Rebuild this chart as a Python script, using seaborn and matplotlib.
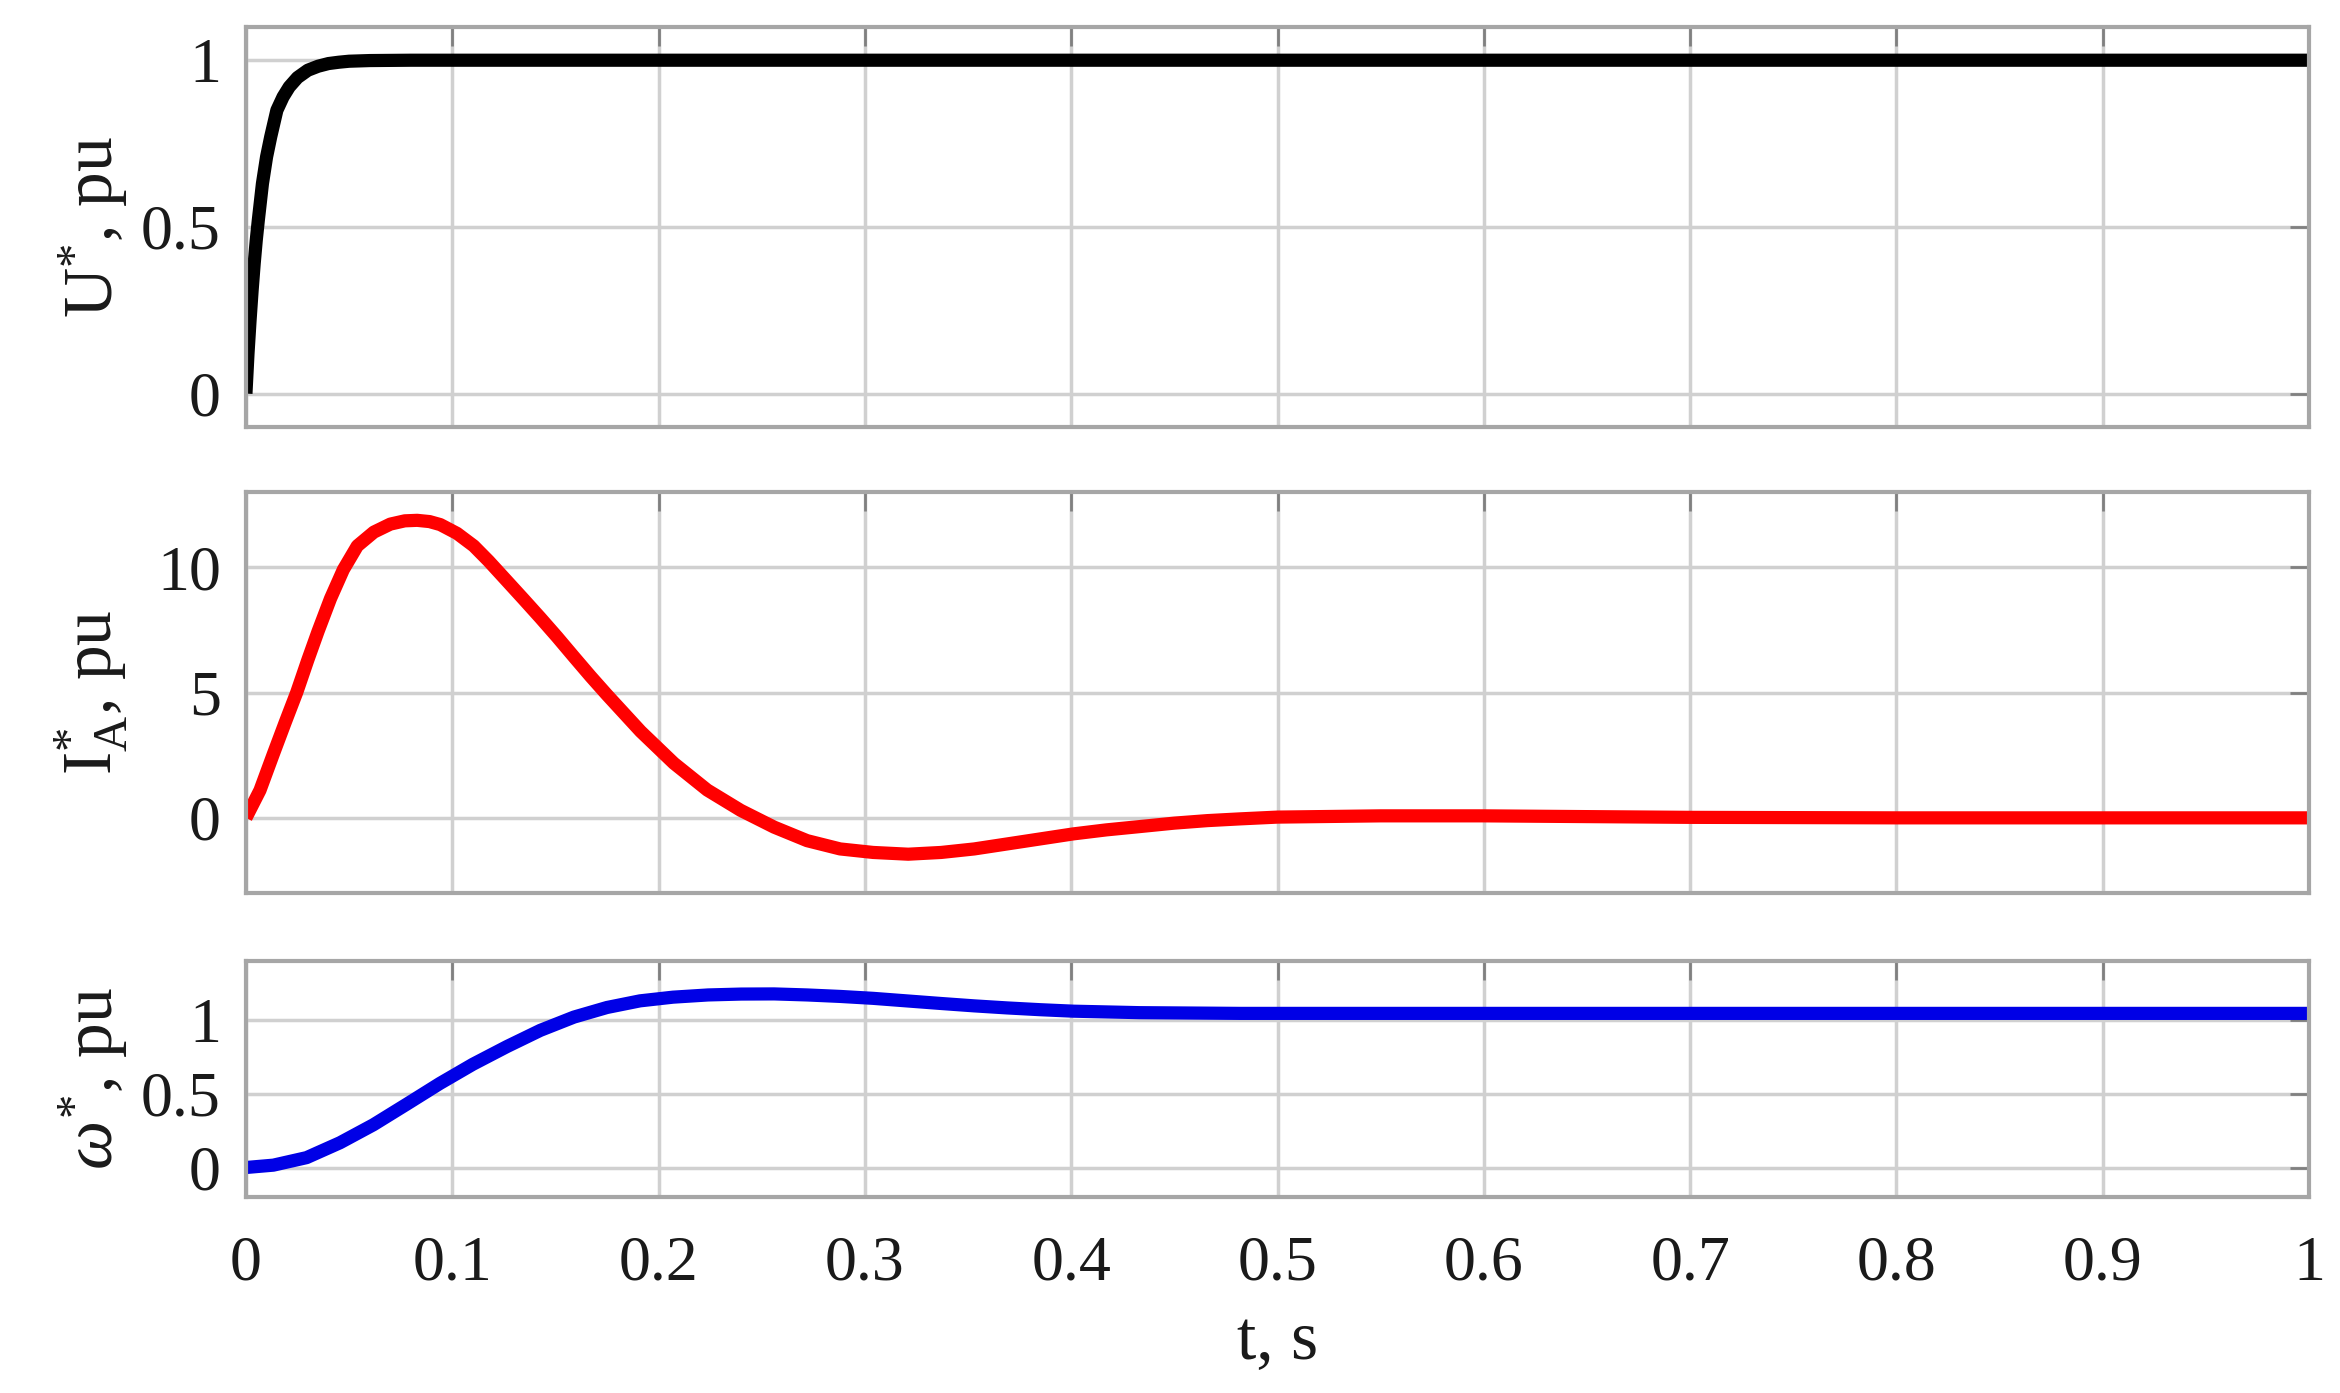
import numpy as np
import pandas as pd
import matplotlib
matplotlib.use("Agg")
import matplotlib.pyplot as plt
import seaborn as sns

# ---------------- data ----------------
u_t = [0, 0.001, 0.002, 0.003, 0.004, 0.005, 0.006, 0.008, 0.010, 0.012, 0.015,
       0.018, 0.021, 0.025, 0.030, 0.035, 0.040, 0.045, 0.050, 0.060, 0.080, 1.0]
u_val = [0, 0.12, 0.22, 0.31, 0.39, 0.46, 0.52, 0.63, 0.71, 0.77, 0.85,
         0.89, 0.92, 0.948, 0.97, 0.982, 0.99, 0.994, 0.997, 0.999, 1.0, 1.0]

i_t = [0, 0.0068, 0.0133, 0.019, 0.0246, 0.030, 0.035, 0.041, 0.0472, 0.054, 0.062,
       0.070, 0.077, 0.083, 0.089, 0.0942, 0.1023, 0.1104, 0.1176, 0.1265, 0.1346,
       0.1427, 0.1508, 0.1589, 0.1670, 0.1751, 0.1913, 0.2074, 0.2236, 0.2398, 0.256,
       0.272, 0.288, 0.304, 0.321, 0.337, 0.353, 0.369, 0.385, 0.401, 0.417, 0.433,
       0.450, 0.466, 0.482, 0.50, 0.55, 0.60, 0.65, 0.70, 0.80, 1.0]
i_val = [0, 1.1, 2.55, 3.8, 5.0, 6.3, 7.45, 8.75, 9.9, 10.85, 11.4,
         11.72, 11.85, 11.87, 11.82, 11.7, 11.35, 10.85, 10.25, 9.45, 8.72,
         7.98, 7.22, 6.43, 5.65, 4.9, 3.45, 2.18, 1.11, 0.3, -0.37,
         -0.91, -1.24, -1.38, -1.45, -1.38, -1.24, -1.04, -0.84, -0.64, -0.48, -0.35,
         -0.21, -0.11, -0.04, 0.03, 0.08, 0.08, 0.05, 0.02, 0.0, 0.0]

w_t = [0, 0.0133, 0.0294, 0.0456, 0.0618, 0.078, 0.094, 0.110, 0.1265, 0.1427,
       0.159, 0.175, 0.191, 0.207, 0.224, 0.240, 0.256, 0.272, 0.288, 0.304,
       0.320, 0.337, 0.353, 0.369, 0.385, 0.401, 0.433, 0.482, 0.55, 1.0]
w_val = [0, 0.016, 0.067, 0.168, 0.29, 0.43, 0.57, 0.70, 0.82, 0.93,
         1.02, 1.085, 1.13, 1.155, 1.17, 1.176, 1.177, 1.17, 1.16, 1.147,
         1.13, 1.112, 1.096, 1.082, 1.07, 1.06, 1.05, 1.045, 1.045, 1.045]

x_ticks = [0, 0.1, 0.2, 0.3, 0.4, 0.5, 0.6, 0.7, 0.8, 0.9, 1]
x_ticklabels = ["0", "0.1", "0.2", "0.3", "0.4", "0.5", "0.6", "0.7", "0.8", "0.9", "1"]
y_ticks = [[0, 0.5, 1], [0, 5, 10], [0, 0.5, 1]]
y_ticklabels = [["0", "0.5", "1"], ["0", "5", "10"], ["0", "0.5", "1"]]
y_labels = [r"U$^{*}$, pu", r"I$^{*}_{\mathrm{A}}$, pu", r"$\omega^{*}$, pu"]
x_label = "t, s"

# ---------------- style ----------------
sns.set_style("white")
plt.rcParams['font.family'] = ['Liberation Serif', 'DejaVu Serif']
plt.rcParams['mathtext.fontset'] = 'custom'
plt.rcParams['mathtext.rm'] = 'Liberation Serif'
plt.rcParams['mathtext.it'] = 'Liberation Serif:italic'
plt.rcParams['mathtext.bf'] = 'Liberation Serif:bold'

fig = plt.figure(figsize=(23.4, 13.93), dpi=100)
rects = [(0.1051, 0.6935, 0.8817, 0.2872),
         (0.1051, 0.3589, 0.8817, 0.2879),
         (0.1051, 0.1407, 0.8817, 0.1694)]
ylims = [(-0.1, 1.1), (-3, 13), (-0.2, 1.4)]
series = [(u_t, u_val, "black"), (i_t, i_val, "#ff0000"), (w_t, w_val, "#0000e6")]

for k, rect in enumerate(rects):
    ax = fig.add_axes(rect)
    t, v, c = series[k]
    df = pd.DataFrame({"t": t, "v": v})
    sns.lineplot(data=df, x="t", y="v", ax=ax, color=c, lw=9.5,
                 estimator=None, sort=False, solid_capstyle="butt",
                 solid_joinstyle="round")
    ax.set_xlim(0, 1)
    ax.set_ylim(*ylims[k])
    ax.set_xticks(x_ticks)
    ax.set_yticks(y_ticks[k])
    ax.set_yticklabels(y_ticklabels[k])
    ax.tick_params(direction="in", length=14, width=2, color="#808080",
                   top=True, right=True, labelsize=46, pad=18,
                   labelcolor="#1a1a1a")
    ax.tick_params(axis="x", pad=28)
    if k == 2:
        ax.set_xticklabels(x_ticklabels)
        ax.set_xlabel(x_label, fontsize=50, labelpad=12, color="#1a1a1a")
    else:
        ax.set_xticklabels([])
        ax.set_xlabel("")
    ax.set_ylabel(y_labels[k], fontsize=50, color="#1a1a1a")
    ax.yaxis.set_label_coords(-0.056, 0.5)
    ax.grid(True, color="#d0d0d0", lw=2.5)
    for s in ax.spines.values():
        s.set_color("#a6a6a6")
        s.set_linewidth(3)
        s.set_visible(True)

fig.savefig("out.png", dpi=100, facecolor="white")
